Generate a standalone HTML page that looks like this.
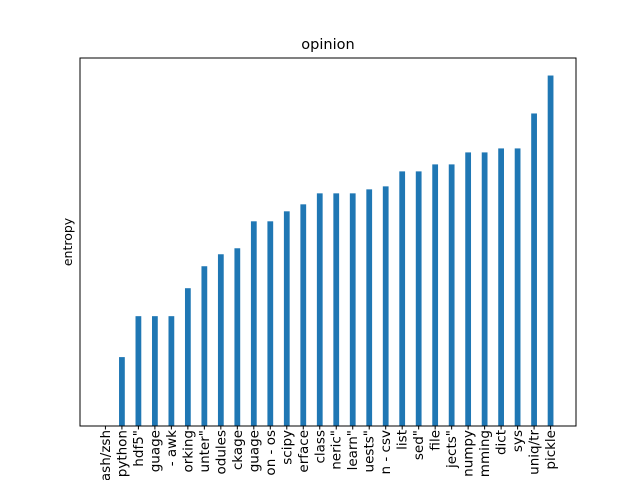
<!DOCTYPE html>
<html><head><meta charset="utf-8"><style>body{margin:0;background:#fff}svg{display:block;font-family:"DejaVu Sans","Liberation Sans",sans-serif}</style></head>
<body>
<svg id="chart" width="640" height="480">
<rect x="0" y="0" width="640" height="480" fill="#fff"/>
<text x="328" y="49" font-size="14.5" text-anchor="middle">opinion</text>
<text transform="translate(72,242) rotate(-90)" font-size="12.5" text-anchor="middle">entropy</text>
<g id="bars"></g>
<g id="ticks"></g>
<rect x="80" y="58" width="496" height="368" fill="none" stroke="#000" stroke-width="1"/>
</svg>
<script>
const categories = ["bash/zsh","python","hdf5\"","guage","- awk","orking","unter\"","odules","ckage","guage","on - os","scipy","erface","class","neric\"","learn\"","uests\"","n - csv","list","sed\"","file","jects\"","numpy","mming","dict","sys","uniq/tr","pickle"];
const values = [0,69,110,110,110,138,160,172,178,205,205,215,222,233,233,233,237,240,255,255,262,262,274,274,278,278,313,351];
const ns="http://www.w3.org/2000/svg";
const pLeft=80,pRight=576,pTop=58,pBottom=426,bw=0.35;
const n=categories.length;
const span=(n-1)+bw, margin=span*0.05;
const xmin=-bw/2-margin, xmax=(n-1)+bw/2+margin;
const ymax=Math.max(...values)*1.05;
const xs=v=>pLeft+(v-xmin)/(xmax-xmin)*(pRight-pLeft);
const ys=v=>pBottom-v/ymax*(pBottom-pTop);
const bars=document.getElementById('bars'), ticks=document.getElementById('ticks');
categories.forEach((c,i)=>{
  const r=document.createElementNS(ns,'rect');
  const x0=xs(i-bw/2), x1=xs(i+bw/2);
  r.setAttribute('x',x0);r.setAttribute('width',x1-x0);
  r.setAttribute('y',ys(values[i]));r.setAttribute('height',pBottom-ys(values[i]));
  r.setAttribute('fill','#1f77b4');
  
  
  bars.appendChild(r);
  const cx=xs(i);
  const l=document.createElementNS(ns,'line');
  l.setAttribute('x1',cx);l.setAttribute('x2',cx);l.setAttribute('y1',pBottom);l.setAttribute('y2',pBottom+3.5);
  l.setAttribute('stroke','#000');
  
  
  ticks.appendChild(l);
  const t=document.createElementNS(ns,'text');
  t.setAttribute('transform',`translate(${cx+4.5},${pBottom+4}) rotate(-90)`);
  t.setAttribute('font-size','13.5');t.setAttribute('text-anchor','end');
  t.textContent=c;
  
  
  ticks.appendChild(t);
});
</script>
</body></html>
